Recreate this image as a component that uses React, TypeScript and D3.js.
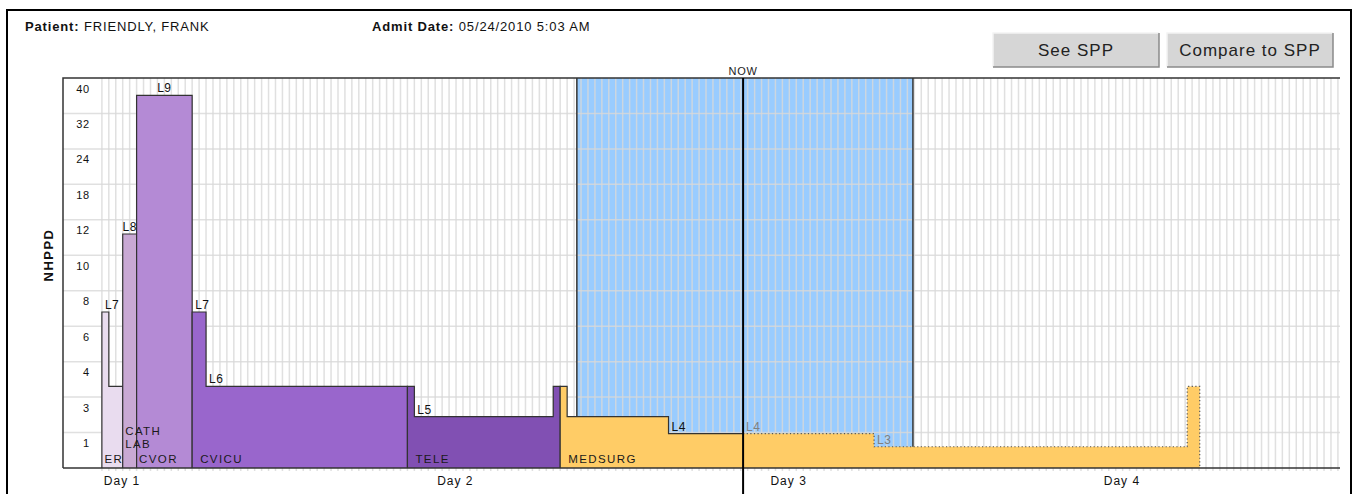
import React, { useRef, useEffect } from "react";
import * as d3 from "d3";

// y axis is a banded (non-linear) NHPPD scale
const yTicks = [0, 1, 3, 4, 6, 8, 10, 12, 18, 24, 32, 40];

// care units in stay order
const units = ["ER", "CATH LAB", "CVOR", "CVICU", "TELE", "MEDSURG"];

// steps of the staffing curve, hours since admission
const stepUnit = ["ER", "ER", "CATH LAB", "CVOR", "CVICU", "CVICU", "TELE", "TELE", "TELE", "MEDSURG", "MEDSURG", "MEDSURG", "MEDSURG", "MEDSURG", "MEDSURG"];
const stepStart = [0, 0.5, 1.5, 2.5, 6.5, 7.5, 22, 22.5, 32.5, 33, 33.5, 40.8, 46.17, 55.6, 78.15];
const stepEnd = [0.5, 1.5, 2.5, 6.5, 7.5, 22, 22.5, 32.5, 33, 33.5, 40.8, 46.17, 55.6, 78.15, 79.05];
const stepValue = [6.8, 3.3, 11.2, 36.1, 6.8, 3.3, 3.3, 1.9, 3.3, 3.3, 1.9, 0.97, 0.97, 0.6, 3.3];
const stepLevel = ["L7", "", "L8", "L9", "L7", "L6", "", "L5", "", "", "", "L4", "L4", "L3", ""];
const stepProjected = [false, false, false, false, false, false, false, false, false, false, false, false, true, true, true];

const nowHour = 46.17;
const windowStart = 34.2;
const windowEnd = 58.4;
const dayLabels = ["Day 1", "Day 2", "Day 3", "Day 4"];
const dayHours = [1.45, 25.45, 49.45, 73.45];

const unitColor: Record<string, string> = {
  ER: "#e9dcef",
  "CATH LAB": "#c9a9d4",
  CVOR: "#b48ad5",
  CVICU: "#9966cc",
  TELE: "#8150b3",
  MEDSURG: "#ffcc66",
};

export default function App() {
  const ref = useRef<SVGSVGElement>(null);

  useEffect(() => {
    if (!ref.current) return;
    const svg = d3.select(ref.current);
    svg.selectAll("*").remove();

    const left = 63, right = 1340, top = 78, bottom = 468;
    const band = (bottom - top) / (yTicks.length - 1);
    const font = "'Liberation Sans', Arial, sans-serif";

    const x = d3.scaleLinear().domain([-2.8, 89.15]).range([left, right]);
    const y = d3
      .scaleLinear()
      .domain(yTicks)
      .range(yTicks.map((_, i) => bottom - i * band));

    const steps = stepStart.map((s, i) => ({
      unit: stepUnit[i],
      start: s,
      end: stepEnd[i],
      value: stepValue[i],
      level: stepLevel[i],
      projected: stepProjected[i],
    }));

    // outer frame
    svg.append("path")
      .attr("d", "M7,494 V10 H1351 V494")
      .attr("fill", "none")
      .attr("stroke", "#000")
      .attr("stroke-width", 2);

    // header
    const header = svg.append("g")
      .attr("font-family", font).attr("font-size", 13)
      .attr("letter-spacing", 0.85).attr("fill", "#111");
    const p = header.append("text").attr("x", 25).attr("y", 31);
    p.append("tspan").attr("font-weight", "bold").text("Patient: ");
    p.append("tspan").text("FRIENDLY, FRANK");
    const a = header.append("text").attr("x", 372).attr("y", 31);
    a.append("tspan").attr("font-weight", "bold").text("Admit Date: ");
    a.append("tspan").text("05/24/2010 5:03 AM");

    // buttons
    [["See SPP", 993], ["Compare to SPP", 1167]].forEach(([label, bx]) => {
      const g = svg.append("g").attr("transform", `translate(${bx},33)`);
      g.append("rect").attr("width", 166).attr("height", 34).attr("fill", "#d6d6d6");
      g.append("path").attr("d", "M0,34 V0 H166").attr("fill", "none").attr("stroke", "#f4f4f4").attr("stroke-width", 1.5);
      g.append("path").attr("d", "M166,0 V34 H0").attr("fill", "none").attr("stroke", "#8a8a8a").attr("stroke-width", 1.5);
      g.append("text")
        .attr("x", 83).attr("y", 23)
        .attr("text-anchor", "middle")
        .attr("font-family", font).attr("font-size", 17).attr("letter-spacing", 1)
        .attr("fill", "#222")
        .text(label as string);
    });

    // shaded window
    svg.append("rect")
      .attr("x", x(windowStart)).attr("y", top)
      .attr("width", x(windowEnd) - x(windowStart)).attr("height", bottom - top)
      .attr("fill", "#99ccff");

    // grid
    const grid = svg.append("g").attr("stroke", "#d8d8d8").attr("stroke-opacity", 0.8);
    grid.selectAll("line.v")
      .data(d3.range(0, 89.1, 0.5))
      .enter().append("line")
      .attr("x1", (d) => x(d)).attr("x2", (d) => x(d))
      .attr("y1", top).attr("y2", bottom + 3)
      .attr("stroke-width", 1.5);
    grid.selectAll("line.h")
      .data(yTicks.slice(1, -1))
      .enter().append("line")
      .attr("x1", left).attr("x2", right)
      .attr("y1", (d) => y(d)).attr("y2", (d) => y(d))
      .attr("stroke-width", 1.5);

    // window edges
    [windowStart, windowEnd].forEach((h) =>
      svg.append("line")
        .attr("x1", x(h)).attr("x2", x(h)).attr("y1", top).attr("y2", bottom)
        .attr("stroke", "#333").attr("stroke-width", 1.5)
    );

    // unit areas
    const area = d3.area<{ h: number; v: number }>()
      .x((d) => x(d.h))
      .y0(y(0))
      .y1((d) => y(d.v))
      .curve(d3.curveStepAfter);
    const line = d3.line<{ h: number; v: number }>()
      .x((d) => x(d.h))
      .y((d) => y(d.v))
      .curve(d3.curveStepAfter);

    const toPts = (ss: typeof steps, closeDown: boolean, openUp: boolean) => {
      const pts: { h: number; v: number }[] = [];
      if (openUp) pts.push({ h: ss[0].start, v: 0 });
      ss.forEach((s) => pts.push({ h: s.start, v: s.value }));
      const last = ss[ss.length - 1];
      pts.push({ h: last.end, v: last.value });
      if (closeDown) pts.push({ h: last.end, v: 0 });
      return pts;
    };

    units.forEach((u) => {
      const ss = steps.filter((s) => s.unit === u);
      const pts = ss.map((s) => ({ h: s.start, v: s.value }));
      pts.push({ h: ss[ss.length - 1].end, v: ss[ss.length - 1].value });
      svg.append("path").attr("d", area(pts)).attr("fill", unitColor[u]);

      const actual = ss.filter((s) => !s.projected);
      const proj = ss.filter((s) => s.projected);
      svg.append("path")
        .attr("d", line(toPts(actual, proj.length === 0, true)))
        .attr("fill", "none").attr("stroke", "#333").attr("stroke-width", 1.2);
      if (proj.length) {
        svg.append("path")
          .attr("d", line(toPts(proj, true, false)))
          .attr("fill", "none").attr("stroke", "#555")
          .attr("stroke-width", 1.2).attr("stroke-dasharray", "1.2,2.4");
      }
    });

    // labels on top of all areas
    units.forEach((u) => {
      const ss = steps.filter((s) => s.unit === u);
      const single = ss.length === 1;
      ss.filter((s) => s.level).forEach((s) => {
        const cx = single ? (x(s.start) + x(s.end)) / 2 : x(s.start) + 3;
        svg.append("text")
          .attr("x", cx).attr("y", y(s.value) - 3)
          .attr("text-anchor", single ? "middle" : "start")
          .attr("font-family", font).attr("font-size", 12).attr("letter-spacing", 0.5)
          .attr("fill", s.projected ? "#808080" : "#111")
          .text(s.level);
      });

      const x0 = x(ss[0].start);
      const w = x(ss[ss.length - 1].end) - x0;
      const words = w < 30 ? u.split(" ") : [u];
      const t = svg.append("text")
        .attr("font-family", font).attr("font-size", 11.5)
        .attr("letter-spacing", 1.4).attr("fill", "#1a1a1a");
      words.forEach((wd, i) =>
        t.append("tspan")
          .attr("x", x0 + (w > 100 ? 8 : 2.5))
          .attr("y", 463 - (words.length - 1 - i) * 13 - (words.length > 1 ? 15 : 0))
          .text(wd)
      );
    });

    // plot frame
    svg.append("path")
      .attr("d", `M${left},${bottom} V${top} H${right}`)
      .attr("fill", "none").attr("stroke", "#333").attr("stroke-width", 1.5);
    svg.append("line")
      .attr("x1", left).attr("x2", right).attr("y1", bottom).attr("y2", bottom)
      .attr("stroke", "#333").attr("stroke-width", 1.5);

    // y tick labels
    svg.append("g")
      .selectAll("text")
      .data(yTicks.slice(1))
      .enter().append("text")
      .attr("x", 90).attr("y", (d) => y(d) + 14.5)
      .attr("text-anchor", "end")
      .attr("font-family", font).attr("font-size", 11).attr("letter-spacing", 0.8)
      .attr("fill", "#111")
      .text((d) => d);

    svg.append("text")
      .attr("transform", "translate(53,255) rotate(-90)")
      .attr("text-anchor", "middle")
      .attr("font-family", font).attr("font-size", 13).attr("font-weight", "bold")
      .attr("letter-spacing", 1.5)
      .attr("fill", "#111")
      .text("NHPPD");

    // day labels
    svg.append("g")
      .selectAll("text")
      .data(dayLabels)
      .enter().append("text")
      .attr("x", (_, i) => x(dayHours[i])).attr("y", 485)
      .attr("text-anchor", "middle")
      .attr("font-family", font).attr("font-size", 12).attr("letter-spacing", 1)
      .attr("fill", "#111")
      .text((d) => d);

    // now marker
    svg.append("line")
      .attr("x1", x(nowHour)).attr("x2", x(nowHour)).attr("y1", top).attr("y2", 494)
      .attr("stroke", "#000").attr("stroke-width", 2);
    svg.append("text")
      .attr("x", x(nowHour)).attr("y", 75)
      .attr("text-anchor", "middle")
      .attr("font-family", font).attr("font-size", 11).attr("letter-spacing", 0.8)
      .attr("fill", "#222")
      .text("NOW");
  }, []);

  return (
    <svg
      ref={ref}
      width={1354}
      height={494}
      style={{ position: "absolute", left: 0, top: 0, background: "#fff" }}
    />
  );
}
